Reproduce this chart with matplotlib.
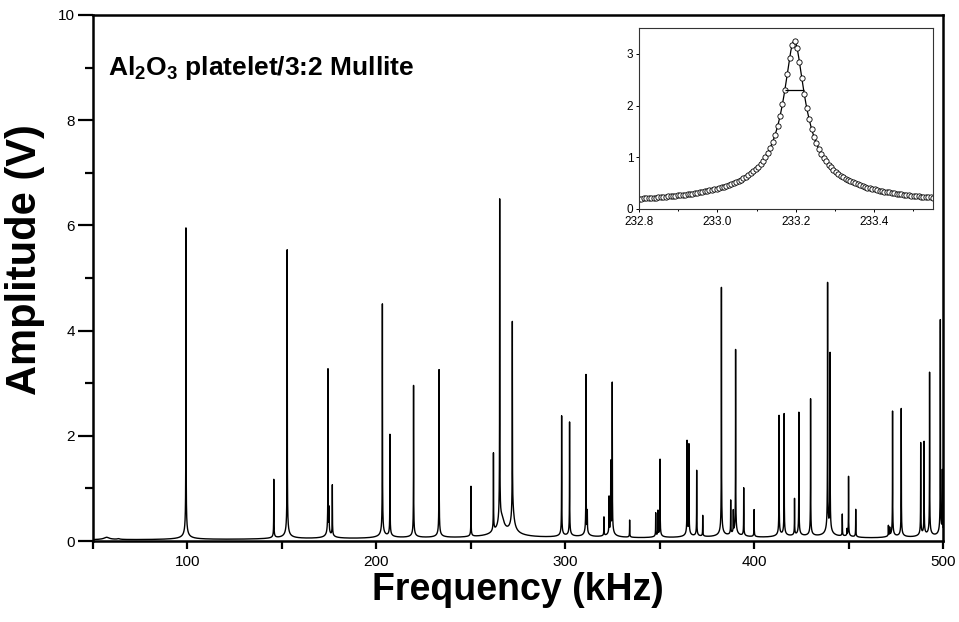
import numpy as np
import matplotlib
matplotlib.use("Agg")
import matplotlib.pyplot as plt
from matplotlib.ticker import MultipleLocator

plt.rcParams['font.family'] = ['Liberation Sans', 'DejaVu Sans']
plt.rcParams['mathtext.fontset'] = 'custom'
plt.rcParams['mathtext.rm'] = 'Liberation Sans:bold'
plt.rcParams['mathtext.it'] = 'Liberation Sans:bold'
plt.rcParams['mathtext.bf'] = 'Liberation Sans:bold'

# resonance peaks (kHz, V)
peak_freq = [99.2, 145.7, 152.8, 174.4, 175.0, 176.7, 203.2, 207.2, 219.7, 233.2,
             250.1, 262.0, 265.3, 272.0, 298.1, 302.3, 311.0, 311.7, 320.5, 323.2,
             324.1, 324.9, 334.1, 347.9, 349.1, 350.2, 364.5, 365.5, 369.6, 372.8,
             382.7, 387.6, 389.0, 390.2, 394.5, 400.0, 413.2, 415.9, 421.4, 423.7,
             429.9, 438.9, 440.2, 446.7, 449.2, 450.0, 453.8, 471.1, 471.8, 473.3,
             477.9, 488.2, 490.0, 492.9, 498.6, 499.7]
peak_amp = [5.93, 1.12, 5.50, 3.20, 0.45, 0.98, 4.45, 1.95, 2.90, 3.20,
            0.96, 1.50, 6.25, 3.75, 2.30, 2.18, 3.08, 0.40, 0.36, 0.70,
            1.35, 2.90, 0.33, 0.45, 0.48, 1.48, 1.80, 1.73, 1.26, 0.40,
            4.75, 0.65, 0.42, 3.55, 0.92, 0.52, 2.30, 2.33, 0.70, 2.36,
            2.62, 4.78, 3.42, 0.42, 0.12, 1.15, 0.53, 0.20, 0.15, 2.40,
            2.45, 1.77, 1.78, 3.12, 4.12, 1.20]
peak_width = 0.03

# broad, low features under the sharp lines
broad_freq = [57.2, 63.5, 266.5, 272.3]
broad_amp = [0.05, 0.015, 0.25, 0.35]
broad_width = [1.2, 0.5, 1.0, 0.6]

# inset: the 233.2 kHz resonance
inset_f0 = 233.196
inset_amp = 3.25
inset_hw = 0.024
inset_step = 0.0062


def resonance(f, f0, a, g):
    return a / np.sqrt(1.0 + ((f - f0) / g) ** 2)


freq = np.union1d(np.arange(50, 500.001, 0.01), peak_freq)
amp = np.zeros_like(freq)
for f0, a in zip(peak_freq, peak_amp):
    amp += resonance(freq, f0, a, peak_width)
for f0, a, g in zip(broad_freq, broad_amp, broad_width):
    amp += resonance(freq, f0, a, g)

fig = plt.figure(figsize=(9.59, 6.22), dpi=100)
ax = fig.add_axes([0.097, 0.1302, 0.8863, 0.8457])
ax.plot(freq, amp, color='black', lw=1.0)
ax.set_xlim(50, 500)
ax.set_ylim(0, 10)
ax.xaxis.set_major_locator(MultipleLocator(100))
ax.xaxis.set_minor_locator(MultipleLocator(50))
ax.yaxis.set_major_locator(MultipleLocator(2))
ax.yaxis.set_minor_locator(MultipleLocator(1))
ax.tick_params(axis='y', which='major', direction='out', length=11, width=1.6, labelsize=11, pad=2)
ax.tick_params(axis='y', which='minor', direction='out', length=6, width=1.6)
ax.tick_params(axis='x', which='both', direction='out', length=6, width=1.6, labelsize=11, pad=4)
for s in ax.spines.values():
    s.set_linewidth(1.8)
ax.set_xlabel('Frequency (kHz)', fontsize=27, fontweight='bold', labelpad=2)
ax.set_ylabel('Amplitude (V)', fontsize=30, fontweight='bold')
ax.yaxis.set_label_coords(-0.057, 0.535)
ax.text(0.0176, 0.886, r'Al$_{2}$O$_{3}$ platelet/3:2 Mullite', transform=ax.transAxes,
        fontsize=19, fontweight='bold', ha='left', va='baseline')

# inset
ins = fig.add_axes([0.6663, 0.664, 0.3066, 0.291])
fx = np.arange(232.8, 233.56, inset_step)
fy = resonance(fx, inset_f0, inset_amp, inset_hw)
lx = np.linspace(232.8, 233.55, 1500)
ins.plot(lx, resonance(lx, inset_f0, inset_amp, inset_hw), color='black', lw=0.9)
ins.plot(fx, fy, 'o', ms=3.8, mfc='white', mec='black', mew=0.6)
ins.hlines(inset_amp / np.sqrt(2), inset_f0 - inset_hw, inset_f0 + inset_hw, color='black', lw=0.9)
ins.set_xlim(232.8, 233.55)
ins.set_ylim(0, 3.5)
ins.xaxis.set_major_locator(MultipleLocator(0.2))
ins.xaxis.set_minor_locator(MultipleLocator(0.1))
ins.set_yticks([0, 1, 2, 3])
ins.tick_params(which='major', direction='out', length=2.5, width=0.7, labelsize=8.5, pad=1.5)
ins.tick_params(axis='x', which='major', pad=2.5)
ins.tick_params(which='minor', direction='out', length=1.5, width=0.7)
for s in ins.spines.values():
    s.set_linewidth(0.8)
    s.set_color('#333333')

fig.savefig('out.png', dpi=100)
